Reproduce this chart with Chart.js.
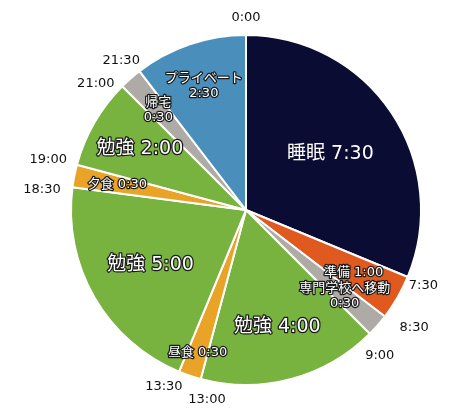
<!DOCTYPE html>
<html>
<head>
<meta charset="utf-8">
<script src="https://cdn.jsdelivr.net/npm/chart.js@4/dist/chart.umd.min.js"></script>
<style>
  html, body { margin: 0; padding: 0; background: #fff; }
  #wrap { width: 473px; height: 414px; }
</style>
</head>
<body>
<div id="wrap"><canvas id="scheduleChart"></canvas></div>
<script>
// one day, clockwise from 0:00 (hours)
var activities = ["睡眠", "準備", "専門学校へ移動", "勉強", "昼食", "勉強", "夕食", "勉強", "帰宅", "プライベート"];
var hours = [7.5, 1, 0.5, 4, 0.5, 5, 0.5, 2, 0.5, 2.5];
var durationLabels = ["7:30", "1:00", "0:30", "4:00", "0:30", "5:00", "0:30", "2:00", "0:30", "2:30"];
var timeTicks = ["0:00", "7:30", "8:30", "9:00", "13:00", "13:30", "18:30", "19:00", "21:00", "21:30"];

var colors = ["#0b0c33", "#e05a20", "#aeaaa6", "#78b23f", "#e9a326", "#78b23f", "#e9a326", "#78b23f", "#aeaaa6", "#4a8fbb"];

// label style per slice: radius fraction, font size, two lines?, outline
var labelStyle = [
  { r: 0.58, size: 19, split: false, outline: false },
  { r: 0.71, size: 13, split: false, outline: true },
  { r: 0.75, size: 13, split: true, outline: true },
  { r: 0.69, size: 19, split: false, outline: true },
  { r: 0.86, size: 13, split: false, outline: true },
  { r: 0.63, size: 19, split: false, outline: true },
  { r: 0.75, size: 13, split: false, outline: true },
  { r: 0.70, size: 19, split: false, outline: true },
  { r: 0.76, size: 13, split: true, outline: true },
  { r: 0.75, size: 13, split: true, outline: true }
];
// small tweaks so close tick labels don't collide (degrees / px)
var tickNudge = [0, 0.7, -2.6, 2.5, -3.4, 2.4, -1.9, -0.8, -5, -2.3];
var tickDist = [192, 193, 205, 198, 194, 195, 205, 204, 196, 195];

var fontFamily = "'DejaVu Sans', 'Noto Sans CJK JP', sans-serif";

var sliceLabels = {
  id: "sliceLabels",
  afterDatasetsDraw: function(chart) {
    var ctx = chart.ctx;
    var arcs = chart.getDatasetMeta(0).data;
    ctx.save();
    ctx.textAlign = "center";
    ctx.textBaseline = "middle";
    ctx.lineJoin = "round";
    arcs.forEach(function(arc, i) {
      var p = arc.getProps(["x", "y", "startAngle", "endAngle", "outerRadius"], true);
      var mid = (p.startAngle + p.endAngle) / 2;
      var st = labelStyle[i];
      var rr = p.outerRadius * st.r;
      var cx = p.x + Math.cos(mid) * rr;
      var cy = p.y + Math.sin(mid) * rr;
      var lines = st.split ? [activities[i], durationLabels[i]] : [activities[i] + " " + durationLabels[i]];
      var lh = st.size * 1.15;
      ctx.font = st.size + "px " + fontFamily;
      lines.forEach(function(t, j) {
        var y = cy + (j - (lines.length - 1) / 2) * lh;
        if (st.outline) {
          ctx.strokeStyle = "#1a1a1a";
          ctx.lineWidth = 2.5;
          ctx.strokeText(t, cx, y);
        }
        ctx.fillStyle = "#ffffff";
        ctx.fillText(t, cx, y);
      });
    });

    // time of day at each boundary
    var c = arcs[0].getProps(["x", "y"], true);
    ctx.font = "13px " + fontFamily;
    ctx.fillStyle = "#111111";
    var total = hours.reduce(function(a, b) { return a + b; }, 0);
    var acc = 0;
    timeTicks.forEach(function(t, i) {
      var deg = acc / total * 360 + tickNudge[i];
      var a = (deg - 90) * Math.PI / 180;
      ctx.fillText(t, c.x + Math.cos(a) * tickDist[i], c.y + Math.sin(a) * tickDist[i]);
      acc += hours[i];
    });
    ctx.restore();
  }
};

var ctx = document.getElementById("scheduleChart").getContext("2d");
var scheduleChart = new Chart(ctx, {
  type: "pie",
  data: {
    labels: activities,
    datasets: [{
      data: hours,
      backgroundColor: colors,
      borderColor: "#ffffff",
      borderWidth: 2,
      hoverOffset: 0
    }]
  },
  options: {
    responsive: true,
    maintainAspectRatio: false,
    animation: false,
    layout: { padding: { top: 34, bottom: 28, left: 70, right: 51 } },
    plugins: {
      legend: { display: false },
      tooltip: { enabled: false }
    }
  },
  plugins: [sliceLabels]
});
</script>
</body>
</html>
